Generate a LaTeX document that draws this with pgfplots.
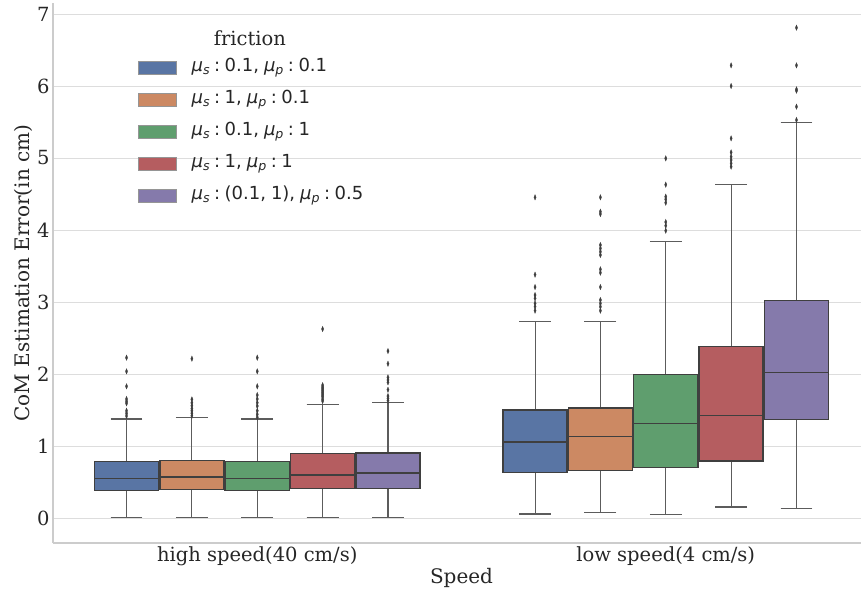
\documentclass[border=0pt]{standalone}
\usepackage{fontspec}
\setmainfont{DejaVu Serif}
\newfontfamily\dvsans{DejaVu Sans}
\usepackage{pgfplots}
\pgfplotsset{compat=1.18}
\usepgfplotslibrary{statistics}
\definecolor{cB}{HTML}{5975A4}
\definecolor{cO}{HTML}{CC8963}
\definecolor{cG}{HTML}{5F9E6E}
\definecolor{cR}{HTML}{B55D60}
\definecolor{cP}{HTML}{857AAB}
\definecolor{edge}{HTML}{3F3F3F}
\definecolor{gridc}{HTML}{DDDDDD}
\definecolor{spinec}{HTML}{CCCCCC}
\definecolor{txt}{HTML}{262626}
\newcommand{\sub}[1]{\raisebox{-2.8pt}{\fontsize{12.6}{12}\selectfont\textit{#1}}}
\newcommand{\mus}{\textit{μ}\sub{s}\hspace{4.5pt}:\hspace{4.5pt}}
\newcommand{\mup}{\textit{μ}\sub{p}\hspace{4.5pt}:\hspace{4.5pt}}
\pgfplotsset{
  mybox/.style={fill=#1, draw=edge, line width=1.4pt, mark=diamond*, mark size=2.7pt,
    mark options={fill=edge, draw=edge, xscale=0.55, line width=0.3pt, solid},
    boxplot/draw direction=y,
    boxplot/every median/.style={draw=edge, line width=1.4pt},
    boxplot/every whisker/.style={draw=edge!85, line width=1.05pt},
    forget plot},
  legimg/.style={legend image code/.code={\draw[fill=#1, draw=edge!55, line width=0.6pt] (0pt,-6.5pt) rectangle (38pt,6.5pt);}}
}
\begin{document}
\begin{tikzpicture}[x=1pt,y=1pt]
\useasboundingbox (0,0) rectangle (861,595);
\begin{axis}[
  at={(53pt,52pt)}, anchor=south west,
  scale only axis, width=817pt, height=540pt,
  xmin=-0.5, xmax=1.5, ymin=-0.347, ymax=7.153,
  axis x line*=bottom, axis y line*=left,
  axis line style={draw=spinec, line width=1.2pt},
  xtick={0,1}, xticklabels={high speed(40 cm/s), low speed(4 cm/s)},
  ytick={0,1,2,3,4,5,6,7},
  major tick length=0pt,
  ymajorgrids, grid style={draw=gridc, line width=1pt},
  /pgf/number format/assume math mode=true,
  tick label style={font=\fontsize{19.5}{20}\selectfont, text=txt},
  xlabel={Speed}, ylabel={CoM Estimation Error(in cm)},
  label style={font=\fontsize{20}{20}\selectfont, text=txt},
  xlabel style={yshift=4pt},
  ylabel style={yshift=-2pt},
  legend style={at={(axis description cs:0.104,0.9093)}, anchor=north west,
    draw=none, fill=none, inner sep=0pt, outer sep=0pt, row sep=0pt,
    font=\dvsans\fontsize{18}{20}\selectfont, text=txt,
    nodes={inner sep=0pt, text height=20pt, text depth=12pt},
    /tikz/every odd column/.append style={column sep=15pt}},
  legend cell align=left,
]
\addlegendimage{legimg=cB}\addlegendentry{\mus 0.1,\hspace{5pt}\mup 0.1}
\addlegendimage{legimg=cO}\addlegendentry{\mus 1,\hspace{5pt}\mup 0.1}
\addlegendimage{legimg=cG}\addlegendentry{\mus 0.1,\hspace{5pt}\mup 1}
\addlegendimage{legimg=cR}\addlegendentry{\mus 1,\hspace{5pt}\mup 1}
\addlegendimage{legimg=cP}\addlegendentry{\mus (0.1,\hspace{5pt}1),\hspace{5pt}\mup 0.5}

% high speed
\addplot[mybox=cB, boxplot prepared={draw position=-0.32, lower whisker=0.002, lower quartile=0.379, median=0.546, upper quartile=0.787, upper whisker=1.375, box extend=0.157, whisker extend=0.078}]
 table[row sep=\\, y=y] {y\\ 2.227\\ 2.037\\ 1.829\\ 1.653\\ 1.62\\ 1.593\\ 1.49\\ 1.453\\ 1.417\\};
\addplot[mybox=cO, boxplot prepared={draw position=-0.16, lower whisker=0.002, lower quartile=0.394, median=0.569, upper quartile=0.796, upper whisker=1.393, box extend=0.157, whisker extend=0.078}]
 table[row sep=\\, y=y] {y\\ 2.213\\ 1.648\\ 1.60\\ 1.56\\ 1.52\\ 1.49\\ 1.455\\ 1.42\\};
\addplot[mybox=cG, boxplot prepared={draw position=0, lower whisker=0.002, lower quartile=0.379, median=0.546, upper quartile=0.787, upper whisker=1.375, box extend=0.157, whisker extend=0.078}]
 table[row sep=\\, y=y] {y\\ 2.227\\ 2.037\\ 1.829\\ 1.708\\ 1.653\\ 1.602\\ 1.556\\ 1.49\\ 1.44\\ 1.40\\};
\addplot[mybox=cR, boxplot prepared={draw position=0.16, lower whisker=0.002, lower quartile=0.407, median=0.597, upper quartile=0.894, upper whisker=1.574, box extend=0.157, whisker extend=0.078}]
 table[row sep=\\, y=y] {y\\ 2.625\\ 1.845\\ 1.82\\ 1.80\\ 1.78\\ 1.76\\ 1.74\\ 1.72\\ 1.70\\ 1.68\\ 1.65\\ 1.625\\};
\addplot[mybox=cP, boxplot prepared={draw position=0.32, lower whisker=0.002, lower quartile=0.412, median=0.625, upper quartile=0.903, upper whisker=1.606, box extend=0.157, whisker extend=0.078}]
 table[row sep=\\, y=y] {y\\ 2.319\\ 2.143\\ 1.954\\ 1.917\\ 1.884\\ 1.782\\ 1.694\\ 1.662\\ 1.63\\};

% low speed
\addplot[mybox=cB, boxplot prepared={draw position=0.68, lower whisker=0.056, lower quartile=0.634, median=1.056, upper quartile=1.50, upper whisker=2.727, box extend=0.157, whisker extend=0.078}]
 table[row sep=\\, y=y] {y\\ 4.454\\ 3.38\\ 3.208\\ 3.097\\ 3.051\\ 2.981\\ 2.935\\ 2.88\\};
\addplot[mybox=cO, boxplot prepared={draw position=0.84, lower whisker=0.083, lower quartile=0.662, median=1.134, upper quartile=1.528, upper whisker=2.727, box extend=0.157, whisker extend=0.078}]
 table[row sep=\\, y=y] {y\\ 4.454\\ 4.255\\ 4.222\\ 3.792\\ 3.745\\ 3.699\\ 3.653\\ 3.454\\ 3.407\\ 3.208\\ 3.028\\ 2.981\\ 2.935\\ 2.88\\};
\addplot[mybox=cG, boxplot prepared={draw position=1.0, lower whisker=0.046, lower quartile=0.704, median=1.31, upper quartile=1.995, upper whisker=3.847, box extend=0.157, whisker extend=0.078}]
 table[row sep=\\, y=y] {y\\ 4.995\\ 4.63\\ 4.463\\ 4.426\\ 4.38\\ 4.111\\ 4.06\\ 3.991\\};
\addplot[mybox=cR, boxplot prepared={draw position=1.16, lower whisker=0.153, lower quartile=0.792, median=1.426, upper quartile=2.38, upper whisker=4.63, box extend=0.157, whisker extend=0.078}]
 table[row sep=\\, y=y] {y\\ 6.287\\ 6.0\\ 5.273\\ 5.079\\ 5.018\\ 4.972\\ 4.926\\ 4.88\\};
\addplot[mybox=cP, boxplot prepared={draw position=1.32, lower whisker=0.13, lower quartile=1.37, median=2.023, upper quartile=3.019, upper whisker=5.49, box extend=0.157, whisker extend=0.078}]
 table[row sep=\\, y=y] {y\\ 6.81\\ 6.287\\ 5.954\\ 5.935\\ 5.713\\ 5.528\\};

\node[font=\fontsize{19.5}{20}\selectfont, text=txt] at (axis description cs:0.241,0.935) {friction};
\end{axis}
\end{tikzpicture}
\end{document}
